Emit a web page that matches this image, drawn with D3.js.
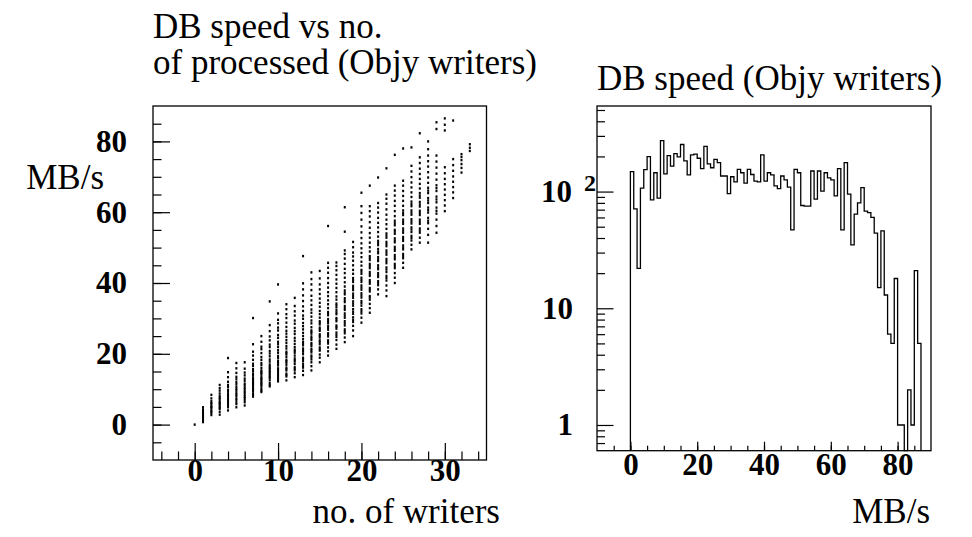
<!DOCTYPE html>
<html>
<head>
<meta charset="utf-8">
<script src="https://cdn.jsdelivr.net/npm/d3@7"></script>
<style>
  body { margin: 0; background: #fff; }
  svg text { font-family: "Liberation Serif", "Times New Roman", serif; fill: #000; }
  .tick text { font-weight: bold; font-size: 31px; }
  .tick line { stroke: #000; stroke-width: 1.2; }
</style>
</head>
<body>
<div id="chart"></div>
<script>
// left panel: no. of writers vs DB speed (MB/s), one list of speeds per writer count
const writers = [0, 1, 2, 3, 4, 5, 6, 7, 8, 9, 10, 11, 12, 13, 14, 15, 16,
  17, 18, 19, 20, 21, 22, 23, 24, 25, 26, 27, 28, 29, 30, 31, 32, 33];
const speedsByWriters = [
  [0],
  [0.7, 1.1, 1.5, 1.8, 2.2, 2.4, 2.9, 3.3, 3.8, 4.3, 4.9],
  [2.7, 3.3, 3.7, 4.0, 4.6, 4.9, 5.2, 5.8, 6.1, 6.6, 7.4, 8.4],
  [2.8, 3.6, 4.4, 4.8, 5.1, 5.6, 6.0, 6.2, 6.7, 7.3, 7.6, 8.1, 8.8, 9.6, 10.3, 11.2],
  [4.0, 4.9, 5.5, 5.9, 6.4, 6.9, 7.2, 7.8, 8.3, 8.7, 9.3, 9.8, 10.6, 11.2, 12.1, 13.4, 14.8, 18.8],
  [4.9, 5.8, 6.3, 7.0, 7.4, 8.1, 8.5, 9.0, 9.6, 10.1, 10.7, 11.4, 12.0, 12.8, 13.5, 14.6, 15.9, 17.4],
  [5.4, 6.3, 6.9, 7.5, 7.9, 8.4, 9.0, 9.4, 10.0, 10.5, 11.1, 11.6, 12.4, 13.0, 13.9, 14.7, 15.8, 17.6],
  [7.9, 8.4, 8.8, 9.4, 9.8, 10.1, 10.5, 11.0, 11.4, 11.7, 12.1, 12.5, 12.8, 13.3, 13.9, 14.4, 15.1, 15.7, 16.6, 17.2, 18.3, 19.5, 20.6, 22.7, 30.1],
  [9.2, 9.6, 10.0, 10.7, 11.2, 11.6, 11.9, 12.4, 12.8, 13.1, 13.6, 14.2, 14.6, 14.9, 15.3, 16.0, 16.8, 17.4, 18.3, 19.1, 20.2, 21.3, 22.0, 23.4, 25.0],
  [10.8, 11.2, 11.7, 12.5, 13.1, 13.5, 13.9, 14.4, 14.8, 15.2, 15.7, 16.1, 16.5, 17.0, 17.8, 18.4, 19.3, 20.1, 20.8, 21.9, 22.6, 23.8, 24.9, 26.4, 28.1, 34.8],
  [12.2, 12.6, 13.1, 13.7, 14.2, 14.6, 15.2, 15.6, 15.9, 16.7, 17.2, 17.6, 18.0, 18.8, 19.4, 20.3, 21.0, 21.9, 22.7, 23.4, 24.5, 25.3, 26.6, 27.4, 28.6, 29.6, 31.4, 39.6],
  [12.5, 13.6, 14.0, 14.4, 15.3, 15.7, 16.1, 16.9, 17.5, 17.9, 18.3, 19.1, 19.8, 20.2, 20.6, 21.5, 22.2, 23.1, 23.9, 24.8, 25.7, 26.5, 27.6, 28.8, 30.1, 31.2, 32.6, 34.0],
  [13.4, 14.5, 15.3, 15.8, 16.2, 17.1, 17.8, 18.2, 18.7, 19.5, 20.3, 20.8, 21.2, 21.9, 22.8, 23.7, 24.5, 25.6, 26.4, 27.3, 28.5, 29.4, 30.8, 32.0, 33.5, 35.8],
  [14.0, 15.2, 16.1, 16.6, 17.2, 18.0, 18.5, 18.9, 19.9, 20.6, 21.0, 21.5, 22.4, 22.9, 23.3, 24.1, 25.0, 25.9, 26.9, 27.8, 28.7, 29.9, 30.8, 32.1, 33.4, 34.9, 36.5, 38.2, 39.9, 47.6],
  [15.3, 16.5, 17.6, 18.4, 19.0, 19.5, 20.4, 20.9, 21.3, 22.1, 22.6, 23.0, 23.9, 24.4, 24.9, 25.7, 26.2, 26.6, 27.5, 28.6, 29.4, 30.5, 31.6, 32.5, 33.8, 35.1, 36.4, 38.0, 39.6, 41.1, 43.0],
  [17.6, 18.9, 19.8, 20.9, 21.3, 21.8, 22.7, 23.3, 23.8, 24.6, 25.1, 25.5, 26.5, 27.0, 27.4, 28.3, 28.8, 29.2, 30.2, 31.2, 32.1, 33.3, 34.4, 35.6, 36.9, 38.2, 39.6, 41.3, 43.4],
  [19.5, 20.7, 21.8, 22.9, 23.4, 23.8, 24.9, 25.4, 25.8, 26.8, 27.3, 27.9, 28.7, 29.3, 29.8, 30.9, 31.4, 31.8, 32.9, 34.0, 35.1, 36.3, 37.4, 38.7, 40.0, 41.4, 42.9, 44.3, 45.7, 56.1],
  [21.4, 22.6, 23.9, 24.8, 25.4, 26.0, 27.1, 27.6, 28.0, 29.2, 29.7, 30.1, 31.2, 31.7, 32.3, 33.1, 33.7, 34.2, 35.3, 36.2, 37.4, 38.6, 39.8, 41.0, 42.3, 43.6, 44.8, 45.8],
  [23.3, 24.6, 25.8, 26.4, 26.9, 28.0, 28.6, 29.2, 30.2, 30.8, 31.4, 32.4, 32.9, 33.5, 34.6, 35.1, 35.7, 36.8, 37.3, 37.9, 39.0, 40.2, 41.5, 42.8, 44.0, 45.4, 46.9, 48.2, 49.2, 54.5, 61.4],
  [25.0, 26.6, 27.9, 29.0, 29.6, 30.3, 31.3, 31.9, 32.6, 33.6, 34.2, 34.8, 35.8, 36.4, 37.0, 38.0, 38.6, 39.2, 40.3, 40.9, 41.4, 42.6, 43.7, 45.0, 46.3, 47.5, 48.6, 50.1, 51.6],
  [28.8, 30.2, 31.4, 32.0, 32.6, 33.6, 34.3, 34.9, 35.9, 36.5, 37.1, 38.1, 38.7, 39.3, 40.3, 40.9, 41.5, 42.6, 43.2, 43.7, 44.9, 46.0, 47.3, 48.5, 49.8, 51.2, 52.7, 54.3, 56.0, 57.9, 59.8, 61.7, 65.5],
  [31.6, 32.9, 34.1, 35.3, 35.9, 36.3, 37.6, 38.1, 38.6, 39.8, 40.3, 40.8, 42.0, 42.5, 43.1, 44.2, 44.8, 45.4, 46.5, 47.1, 47.6, 48.9, 50.1, 51.4, 52.8, 54.1, 55.6, 57.2, 58.8, 60.3, 61.7, 67.5],
  [36.8, 38.2, 39.4, 40.0, 40.5, 41.7, 42.2, 42.8, 43.9, 44.4, 45.0, 46.2, 46.7, 47.3, 48.4, 48.9, 49.6, 50.7, 51.3, 51.9, 53.1, 54.4, 55.7, 57.0, 58.4, 59.9, 61.3, 62.6, 69.8],
  [36.3, 37.9, 39.3, 40.7, 41.4, 42.0, 43.1, 43.8, 44.4, 45.6, 46.2, 46.8, 48.0, 48.6, 49.2, 50.4, 51.0, 51.6, 52.8, 53.4, 54.0, 55.3, 56.6, 57.9, 59.3, 60.8, 62.4, 63.8, 65.0, 72.4],
  [40.0, 41.5, 42.8, 44.2, 44.8, 45.4, 46.7, 47.3, 47.9, 49.1, 49.6, 50.2, 51.5, 52.0, 52.6, 53.9, 54.5, 55.0, 56.3, 56.9, 57.6, 58.9, 60.3, 61.8, 63.2, 64.7, 66.1, 67.5, 76.2],
  [44.3, 45.7, 47.0, 47.6, 48.2, 49.5, 50.0, 50.6, 51.9, 52.4, 53.0, 54.2, 54.8, 55.4, 56.7, 57.3, 57.9, 59.2, 59.8, 60.5, 61.8, 63.2, 64.6, 66.0, 67.5, 68.9, 78.0],
  [49.5, 50.8, 52.0, 52.7, 53.3, 54.4, 55.1, 55.7, 56.8, 57.4, 58.0, 59.3, 59.9, 60.5, 61.7, 62.3, 63.0, 64.3, 65.6, 67.0, 68.4, 69.9, 71.5, 73.1, 78.3],
  [51.4, 52.8, 54.2, 54.8, 55.4, 56.7, 57.3, 57.9, 59.2, 59.8, 60.4, 61.6, 62.2, 62.9, 64.1, 64.7, 65.4, 66.7, 68.0, 69.4, 70.8, 72.3, 73.9, 75.5, 82.3],
  [51.4, 53.6, 55.3, 56.9, 57.6, 58.4, 59.9, 60.6, 61.3, 62.6, 63.3, 64.0, 65.4, 66.1, 66.9, 68.3, 69.8, 71.3, 72.9, 74.4, 76.0, 77.8, 80.0],
  [54.2, 56.1, 57.9, 59.6, 60.4, 61.3, 62.8, 63.6, 64.4, 66.0, 66.8, 67.6, 69.2, 70.9, 72.6, 74.3, 76.0, 83.5, 85.4],
  [60.3, 61.9, 63.4, 64.9, 66.4, 67.9, 69.4, 71.0, 72.7, 83.1, 84.7, 86.5],
  [64.0, 65.6, 67.1, 68.6, 70.1, 71.7, 73.3, 75.0, 85.9],
  [71.2, 72.5, 73.6, 74.7, 75.6, 76.4],
  [77.3, 78.2, 79.2]
];

// right panel: histogram of DB speed, 1 MB/s bins starting at 0
const binStart = 0;
const binWidth = 1;
const speedCounts = [
  148, 71, 22, 107, 154, 199, 85, 145, 88, 273,
  142, 203, 165, 211, 198, 253, 183, 139, 206, 209,
  193, 157, 244, 173, 160, 189, 177, 136, 136, 96,
  134, 121, 155, 145, 118, 155, 140, 123, 121, 206,
  123, 145, 139, 112, 106, 136, 126, 109, 47, 155,
  145, 76, 75, 75, 150, 86, 150, 101, 145, 131,
  126, 92, 157, 47, 177, 95, 35, 64, 80, 108,
  68, 66, 60, 44, 15, 46, 13, 6, 5, 18,
  1, 1, 0, 2, 1, 21, 5
];

// tick labels
const leftXTicks = [0, 10, 20, 30];
const leftYTicks = [0, 20, 40, 60, 80];
const rightXTicks = [0, 20, 40, 60, 80];
const rightYTicks = [1, 10, 100];

var width = 972, height = 537;
var svg = d3.select("#chart").append("svg")
  .attr("width", width)
  .attr("height", height);

// ---------- left panel ----------
var L = { left: 153, right: 486.5, top: 106, bottom: 460 };
var xL = d3.scaleLinear().domain([-5, 35]).range([L.left, L.right]);
var yL = d3.scaleLinear().domain([-10, 90]).range([L.bottom, L.top]);

var dots = [];
writers.forEach(function (n, i) {
  speedsByWriters[i].forEach(function (v) {
    dots.push({ n: n, v: v });
  });
});

svg.append("g")
  .selectAll("rect")
  .data(dots)
  .enter()
  .append("rect")
  .attr("x", function (d) { return xL(d.n) - 1; })
  .attr("y", function (d) { return yL(d.v) - 1.2; })
  .attr("width", 2)
  .attr("height", 2.4)
  .attr("fill", "#000");

// minor + major ticks, pointing inwards
svg.append("g")
  .attr("transform", "translate(" + L.left + ",0)")
  .call(d3.axisLeft(yL).tickValues(d3.range(-5, 90, 5)).tickSize(-8.5).tickFormat(""))
  .call(function (g) { g.select(".domain").remove(); });
svg.append("g")
  .attr("transform", "translate(" + L.left + ",0)")
  .call(d3.axisLeft(yL).tickValues(leftYTicks).tickSize(-17).tickPadding(26))
  .call(function (g) { g.select(".domain").remove(); });

svg.append("g")
  .attr("transform", "translate(0," + L.bottom + ")")
  .call(d3.axisBottom(xL).tickValues(d3.range(-4, 35, 2)).tickSize(-8.5).tickFormat(""))
  .call(function (g) { g.select(".domain").remove(); });
svg.append("g")
  .attr("transform", "translate(0," + L.bottom + ")")
  .call(d3.axisBottom(xL).tickValues(leftXTicks).tickSize(-17).tickPadding(-1))
  .call(function (g) { g.select(".domain").remove(); });

svg.append("rect")
  .attr("x", L.left).attr("y", L.top)
  .attr("width", L.right - L.left).attr("height", L.bottom - L.top)
  .attr("fill", "none").attr("stroke", "#000").attr("stroke-width", 1.3);

svg.append("text").attr("x", L.left).attr("y", 38)
  .style("font-size", "35px").text("DB speed vs no.");
svg.append("text").attr("x", L.left).attr("y", 74)
  .style("font-size", "35px").text("of processed (Objy writers)");
svg.append("text").attr("x", 104).attr("y", 189)
  .attr("text-anchor", "end").style("font-size", "35px").text("MB/s");
svg.append("text").attr("x", 500).attr("y", 523)
  .attr("text-anchor", "end").style("font-size", "35px").text("no. of writers");

// ---------- right panel ----------
var R = { left: 597, right: 931, top: 106, bottom: 450.7 };
var xR = d3.scaleLinear().domain([-10, 90]).range([R.left, R.right]);
var yR = d3.scaleLog().domain([0.602, 541]).range([R.bottom, R.top]);

var steps = [[xR(binStart), R.bottom]];
speedCounts.forEach(function (c, i) {
  var lo = binStart + i * binWidth;
  var yy = c > 0 ? yR(c) : R.bottom;
  steps.push([xR(lo), yy]);
  steps.push([xR(lo + binWidth), yy]);
});
steps.push([xR(binStart + speedCounts.length * binWidth), R.bottom]);

svg.append("path")
  .attr("d", d3.line()(steps))
  .attr("fill", "none")
  .attr("stroke", "#000")
  .attr("stroke-width", 1.3);

var logMinor = [0.7, 0.8, 0.9, 2, 3, 4, 5, 6, 7, 8, 9, 20, 30, 40, 50, 60, 70, 80, 90, 200, 300, 400, 500];
svg.append("g")
  .attr("transform", "translate(" + R.left + ",0)")
  .call(d3.axisLeft(yR).tickValues(logMinor).tickSize(-8).tickFormat(""))
  .call(function (g) { g.select(".domain").remove(); });
var yAxR = svg.append("g")
  .attr("transform", "translate(" + R.left + ",0)")
  .call(d3.axisLeft(yR).tickValues(rightYTicks).tickSize(-16.5).tickPadding(24)
    .tickFormat(function (d) { return d === 100 ? "10" : String(d); }))
  .call(function (g) { g.select(".domain").remove(); });
yAxR.selectAll(".tick text")
  .filter(function (d) { return d === 100; })
  .attr("x", -1)
  .append("tspan")
  .attr("dx", 12)
  .attr("dy", "-0.45em")
  .style("font-size", "24px")
  .text("2");

svg.append("g")
  .attr("transform", "translate(0," + R.bottom + ")")
  .call(d3.axisBottom(xR).tickValues(d3.range(-5, 90, 5)).tickSize(-5).tickFormat(""))
  .call(function (g) { g.select(".domain").remove(); });
svg.append("g")
  .attr("transform", "translate(0," + R.bottom + ")")
  .call(d3.axisBottom(xR).tickValues(rightXTicks).tickSize(-9).tickPadding(2))
  .call(function (g) { g.select(".domain").remove(); });

svg.append("rect")
  .attr("x", R.left).attr("y", R.top)
  .attr("width", R.right - R.left).attr("height", R.bottom - R.top)
  .attr("fill", "none").attr("stroke", "#000").attr("stroke-width", 1.3);

svg.append("text").attr("x", R.left).attr("y", 90)
  .style("font-size", "35px").text("DB speed (Objy writers)");
svg.append("text").attr("x", 930).attr("y", 523)
  .attr("text-anchor", "end").style("font-size", "35px").text("MB/s");
</script>
</body>
</html>
